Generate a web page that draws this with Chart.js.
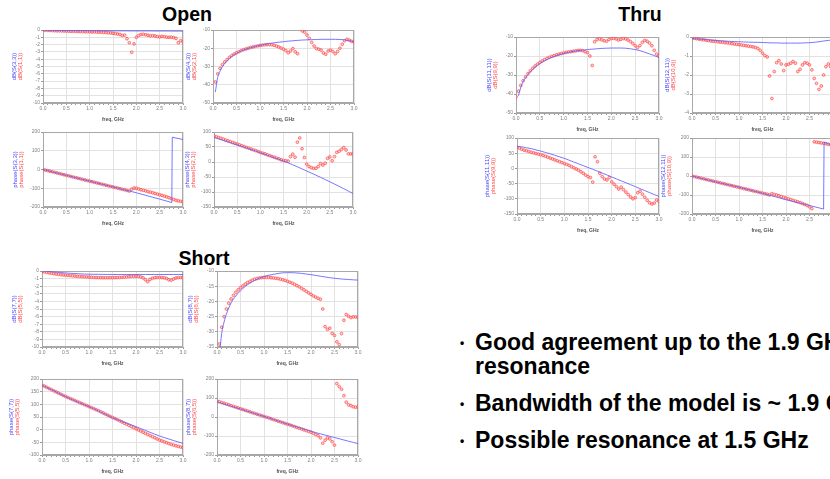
<!DOCTYPE html>
<html><head><meta charset="utf-8">
<script src="https://cdn.jsdelivr.net/npm/chart.js@4.4.0/dist/chart.umd.min.js"></script>
<style>
html,body{margin:0;padding:0;width:830px;height:479px;overflow:hidden;background:#fff;font-family:"Liberation Sans",Arial,sans-serif;}
canvas{position:absolute;}
.ttl{position:absolute;font-weight:bold;font-size:19.5px;line-height:20px;text-align:center;width:100px;color:#000;}
.bul{position:absolute;left:460px;font-weight:bold;font-size:12px;line-height:24px;}
.txt{position:absolute;left:475px;font-weight:bold;font-size:23px;line-height:24px;white-space:nowrap;color:#000;}
</style></head><body>
<div class="ttl" style="left:137px;top:4px">Open</div>
<div class="ttl" style="left:590px;top:4px">Thru</div>
<div class="ttl" style="left:154px;top:248px">Short</div>
<div class="bul" style="top:331px">•</div><div class="txt" style="top:330px">Good agreement up to the 1.9 GHz<br>resonance</div>
<div class="bul" style="top:392px">•</div><div class="txt" style="top:391px">Bandwidth of the model is ~ 1.9 GHz</div>
<div class="bul" style="top:429px">•</div><div class="txt" style="top:428px">Possible resonance at 1.5 GHz</div>
<script>
// ---------- frequency axes ----------
const freqRed = [0,0.05,0.1,0.15,0.2,0.25,0.3,0.35,0.4,0.45,0.5,0.55,0.6,0.65,0.7,0.75,0.8,0.85,0.9,0.95,1.0,1.05,1.1,1.15,1.2,1.25,1.3,1.35,1.4,1.45,1.5,1.55,1.6,1.65,1.7,1.75,1.8,1.85,1.9,1.95,2.0,2.05,2.1,2.15,2.2,2.25,2.3,2.35,2.4,2.45,2.5,2.55,2.6,2.65,2.7,2.75,2.8,2.85,2.9,2.95,3.0];
const freqBlue = [0,0.05,0.1,0.15,0.2,0.3,0.4,0.5,0.6,0.7,0.8,0.9,1.0,1.1,1.2,1.3,1.4,1.5,1.6,1.7,1.8,1.9,2.0,2.1,2.2,2.3,2.4,2.5,2.6,2.7,2.8,2.9,3.0];
const xTicks = [0.0,0.5,1.0,1.5,2.0,2.5,3.0];

// ---------- OPEN ----------
const openS33dB = [0,-0.02,-0.03,-0.04,-0.05,-0.06,-0.07,-0.08,-0.08,-0.09,-0.09,-0.1,-0.1,-0.1,-0.11,-0.11,-0.11,-0.12,-0.12,-0.12,-0.12,-0.13,-0.13,-0.13,-0.13,-0.13,-0.14,-0.14,-0.14,-0.14,-0.15,-0.15,-0.15];
const openS11dB = [0,-0.03,-0.05,-0.07,-0.08,-0.1,-0.11,-0.12,-0.13,-0.14,
 -0.15,-0.16,-0.17,-0.18,-0.19,-0.2,-0.21,-0.22,-0.23,-0.24,
 -0.25,-0.26,-0.27,-0.28,-0.29,-0.31,-0.33,-0.35,-0.38,-0.41,
 -0.45,-0.5,-0.55,-0.62,-0.75,-0.7,-1.2,-1.75,-3.05,-1.9,
 -1.0,-0.75,-0.62,-0.6,-0.65,-0.72,-0.8,-0.78,-0.82,-0.9,
 -0.95,-0.88,-0.92,-0.98,-1.0,-0.98,-1.05,-1.15,-1.75,-1.45,
 -1.6];
const openS43dB = [null,-44,-36,-32.5,-30,-26.8,-24.5,-22.8,-21.5,-20.5,-19.7,-19,-18.4,-17.9,-17.4,-17,-16.7,-16.4,-16.1,-15.9,-15.7,-15.5,-15.4,-15.3,-15.2,-15.1,-15.1,-15.1,-15.1,-15.2,-15.4,-15.8,-16.5];
const openS21dB = [null,-38.5,-34,-31,-29,-27.5,-26.2,-25,-24,-23.2,
 -22.5,-21.9,-21.3,-20.8,-20.4,-20,-19.6,-19.3,-19,-18.7,
 -18.5,-18.3,-18.1,-18,-18,-18.1,-18.4,-18.8,-19.3,-19.9,
 -20.5,-21.3,-22.5,-21.5,-20.2,-22,-23,null,-10.5,-11.2,
 -12.8,-14.6,-16.8,-18.8,-20.2,-20.5,-21,-22.6,-23.3,-21.5,
 -21,-21.8,-23,-21.8,-20,-17.8,-15.9,-15.1,-15.6,-16.2,
 -16.6];
const openS33phFreq = [0,0.5,1.0,1.5,1.85,2.0,2.5,2.76,2.77,3.0];
const openS33ph = [0,-31,-62,-93,-115,-124,-158,-176,172,160];
const openS11ph = [0,-3,-6,-9,-12,-15.5,-18.5,-21.5,-25,-28,
 -31,-34,-37,-40.5,-43.5,-46.5,-49.5,-53,-56,-59,
 -62,-65,-68,-71.5,-74.5,-77.5,-80.5,-84,-87,-90,
 -93,-96,-99,-102.5,-105.5,-108.5,-112,-115,-105,-99,
 -100,-104,-108,-111,-114,-118,-121,-124,-128,-131,
 -135,-138,-142,-146,-150,-155,-160,-164,-167,-170,
 -173];
const openS43ph = [82,79.5,77,74.5,72,67,62,57,52,47,41.5,36.5,31,25.5,20,14.5,9,3,-3,-9.5,-16,-23,-30,-37,-44,-51,-58.5,-66,-73.5,-81,-89,-97,-105];
const openS21ph = [87,84,81.5,79,76,73,70.5,68,65,62.5,
 60,57,54,51.5,48.5,46,43,40.5,38,35,
 32,29.5,27,24,21.5,18.5,16,13,10.5,7.5,
 5,4,3,18,26,16,66,80,44,15,
 -7,-15,-19,-21,-21,-15,-5,-10,-4,12,
 17,4,18,32,36,42,48,40,27,27,
 27];

// ---------- THRU ----------
const thruS1111dB = [null,-41,-36.5,-33.5,-31.5,-28.3,-25.9,-24,-22.5,-21.2,-20.2,-19.4,-18.7,-18.1,-17.6,-17.2,-16.9,-16.6,-16.4,-16.2,-16,-15.9,-15.8,-15.8,-15.8,-15.9,-16.2,-16.6,-17.2,-18,-18.9,-19.8,-20.8];
const thruS99dB = [-41.5,-38.5,-35.5,-33,-31,-29.3,-27.8,-26.5,-25.3,-24.3,
 -23.4,-22.6,-21.9,-21.3,-20.7,-20.2,-19.8,-19.4,-19,-18.7,
 -18.4,-18.1,-17.9,-17.7,-17.5,-17.3,-17.1,-17,-17.2,-17.8,
 -18.2,-20,-25,-12.5,-11.3,-11,-11.5,-12,-12.2,-11.3,
 -10.8,-10.7,-11,-11.6,-11.2,-10.8,-11,-11.6,-12.4,-13.4,
 -14.6,-15.6,-14.5,-12.8,-11.8,-12.2,-13.2,-14.6,-17,-19,
 -20];
const thruS1211dB = [-0.08,-0.09,-0.1,-0.11,-0.12,-0.14,-0.16,-0.18,-0.2,-0.21,-0.23,-0.24,-0.25,-0.26,-0.27,-0.28,-0.28,-0.29,-0.3,-0.31,-0.31,-0.32,-0.32,-0.32,-0.32,-0.32,-0.31,-0.3,-0.28,-0.25,-0.21,-0.18,-0.15];
const thruS109dB = [-0.05,-0.07,-0.09,-0.11,-0.13,-0.15,-0.17,-0.19,-0.21,-0.22,
 -0.23,-0.25,-0.27,-0.28,-0.3,-0.31,-0.33,-0.35,-0.37,-0.39,
 -0.4,-0.42,-0.44,-0.46,-0.48,-0.5,-0.52,-0.55,-0.6,-0.7,
 -0.85,-0.98,-1.05,-2.05,-3.24,-1.82,-1.35,-1.24,-1.42,-1.77,
 -1.47,-1.44,-1.38,-1.29,-1.38,-1.82,-1.7,-1.47,-1.35,-1.38,
 -1.47,-1.73,-2.18,-2.44,-2.76,-2.58,-2.0,-1.56,-1.42,-1.56,
 -1.7];
const thruS1111ph = [72,72,71,69.5,68,65,61,57,52.5,48,43,38,33,27,21,15,9,3,-3,-9,-15.5,-21.5,-28,-34.5,-41,-47,-53.5,-60,-66.5,-73,-79.5,-86,-92];
const thruS99ph = [70,67,63,60,58,55.5,53,51,49,47,
 45,42.5,40,37,34,31,28,25,22,19,
 16,13,10,6,2,-2,-6,-11,-16,-22,
 -27,-30,-45,38,22,-16,-27,-35,-38,-30,
 -44,-52,-60,-68,-62,-70,-78,-86,-94,-100,
 -96,-80,-75,-85,-95,-105,-113,-117,-114,-104,
 -108];
const thruS1211phFreq = [0,0.5,1.0,1.5,2.0,2.5,2.8,2.81,3.0];
const thruS1211ph = [0,-31,-59,-91,-125,-155,-174,178,160];
const thruS109ph = [0,-3,-6,-9,-12,-15,-18,-21,-24,-27,
 -30,-33,-36,-39,-42,-45,-48,-51,-54,-57,
 -60,-63,-66,-69,-72,-75,-78,-81,-84,-87,
 -90,-93,-96,-100,-93,-97,-100,-104,-108,-112,
 -116,-120,-124,-128,-132,-136,-140,-145,-150,-155,
 -162,-172,180,178,176,174,172,170,167,164,
 161];

// ---------- SHORT ----------
const shortS77dB = [0,-0.02,-0.04,-0.07,-0.1,-0.15,-0.2,-0.25,-0.3,-0.34,-0.37,-0.4,-0.42,-0.43,-0.44,-0.45,-0.45,-0.46,-0.46,-0.46,-0.46,-0.46,-0.46,-0.46,-0.46,-0.46,-0.46,-0.46,-0.46,-0.46,-0.46,-0.46,-0.46];
const shortS55dB = [-0.05,-0.12,-0.18,-0.24,-0.3,-0.35,-0.4,-0.44,-0.48,-0.52,
 -0.55,-0.58,-0.61,-0.64,-0.67,-0.7,-0.72,-0.74,-0.76,-0.78,
 -0.8,-0.82,-0.84,-0.86,-0.87,-0.88,-0.88,-0.89,-0.89,-0.88,
 -0.88,-0.87,-0.86,-0.85,-0.83,-0.8,-0.77,-0.74,-0.72,-0.7,
 -0.7,-0.72,-0.78,-0.9,-1.15,-1.4,-1.1,-0.95,-0.88,-0.85,
 -0.85,-0.87,-0.9,-0.98,-1.15,-1.2,-1.05,-0.92,-0.86,-0.85,
 -0.88];
const shortS87dB = [null,-38,-30.5,-26.8,-24.2,-20.5,-18.2,-16.5,-15.1,-14,-13.1,-12.4,-11.8,-11.4,-11.1,-10.8,-10.6,-10.55,-10.55,-10.65,-10.8,-11,-11.2,-11.45,-11.7,-11.95,-12.2,-12.4,-12.55,-12.7,-12.8,-12.9,-13];
const shortS65dB = [null,-34,-28.5,-25,-22.5,-20.6,-19.2,-18,-17,-16.2,
 -15.5,-14.9,-14.3,-13.8,-13.4,-13,-12.7,-12.5,-12.3,-12.2,
 -12.1,-12.1,-12.1,-12.2,-12.3,-12.4,-12.5,-12.7,-12.9,-13.1,
 -13.4,-13.7,-14,-14.4,-14.8,-15.2,-15.7,-16.2,-16.7,-17.2,
 -17.7,-18.2,-18.6,-19,-19.3,-22.5,-28.3,-29.2,-28.8,-30.5,
 -31.2,-33.3,-34.2,-30.6,-26.2,-24.3,-24.9,-25.3,-25.1,-25.1,
 -25.3];
const shortS77ph = [176,171,167,162,158,149,139.5,130.5,122,114,106,98.5,91,82.5,74,65,56,47,40,33,26,19,12,4.5,-3,-10.5,-18,-25,-31,-37,-43,-48.5,-54];
const shortS55ph = [176,172,167,162.5,158,153.5,149,144.5,140,135.5,
 131,127,123,119,115,111,107,103,99,95,
 91,87,83,79,75,70.5,66,61.5,57,52.5,
 48,44,39.5,35,30.5,26,21.5,17,12.5,8,
 3.5,-1,-5.5,-10,-14.5,-19,-23.5,-28,-32,-36.5,
 -41,-44.5,-48,-51.5,-55,-58,-61,-63.5,-66,-68.5,
 -71];
const shortS87ph = [80,76,72,68.5,65,57,49.5,42,34,26,18.5,10.5,3,-5,-13,-21,-29,-37,-45,-52.5,-60,-67.5,-75,-82,-88.5,-95,-101.5,-108,-114.5,-121,-127.5,-134,-140];
const shortS65ph = [84,80,76,72,68,64,60,55.5,51.5,47.5,
 43.5,39.5,35.5,31.5,27,23,19,15,11,7,
 3,-1,-5,-9,-13.5,-17.5,-21.5,-26,-30,-34,
 -38,-42,-46.5,-50.5,-55,-59,-63,-67.5,-71.5,-76,
 -80,-86,-92,-98,-110,-138,-122,-110,-115,-130,
 -148,176,160,146,112,78,64,60,54,51,
 54];

// ---------- layout of the 12 panels ----------
const panels = [
 {r:[43,30,183,103],  y:[-10,0,1],     bx:freqBlue, by:openS33dB,  ry:openS11dB,  bl:'dB(S(3,3))',  rl:'dB(S(1,1))',  dx:29},
 {r:[213,30,354,103], y:[-50,-10,10],  bx:freqBlue, by:openS43dB,  ry:openS21dB,  bl:'dB(S(4,3))',  rl:'dB(S(2,1))',  dx:25},
 {r:[43,132,183,207], y:[-200,200,100],bx:openS33phFreq, by:openS33ph, ry:openS11ph, bl:'phase(S(3,3))', rl:'phase(S(1,1))', dx:28, wrap:true},
 {r:[214,132,353,207],y:[-150,100,50], bx:freqBlue, by:openS43ph,  ry:openS21ph,  bl:'phase(S(4,3))', rl:'phase(S(2,1))', dx:27},
 {r:[516,37,659,113], y:[-50,-10,10],  bx:freqBlue, by:thruS1111dB,ry:thruS99dB,  bl:'dB(S(11,11))',rl:'dB(S(9,9))',  dx:27},
 {r:[692,37,833,113], y:[-4,0,1],      bx:freqBlue, by:thruS1211dB,ry:thruS109dB, bl:'dB(S(12,11))',rl:'dB(S(10,9))', dx:25},
 {r:[517,138,659,214],y:[-150,100,50], bx:freqBlue, by:thruS1111ph,ry:thruS99ph,  bl:'phase(S(11,11))', rl:'phase(S(9,9))', dx:30},
 {r:[692,138,833,214],y:[-200,200,100],bx:thruS1211phFreq, by:thruS1211ph, ry:thruS109ph, bl:'phase(S(12,11))', rl:'phase(S(10,9))', dx:29, wrap:true},
 {r:[42,271,183,347], y:[-10,0,1],     bx:freqBlue, by:shortS77dB, ry:shortS55dB, bl:'dB(S(7,7))',  rl:'dB(S(5,5))',  dx:28},
 {r:[217,271,358,347],y:[-35,-10,5],   bx:freqBlue, by:shortS87dB, ry:shortS65dB, bl:'dB(S(8,7))',  rl:'dB(S(6,5))',  dx:27},
 {r:[42,379,183,455], y:[-100,200,50], bx:freqBlue, by:shortS77ph, ry:shortS55ph, bl:'phase(S(7,7))', rl:'phase(S(5,5))', dx:31},
 {r:[217,379,358,455],y:[-200,200,100],bx:freqBlue, by:shortS87ph, ry:shortS65ph, bl:'phase(S(8,7))', rl:'phase(S(6,5))', dx:29}
];

Chart.defaults.font.family = '"Liberation Sans", Arial, sans-serif';
const YW = 36, PT = 5, PR = 6, XH = 24;
const isHalf = v => xTicks.some(t => Math.abs(t - v) < 1e-6);

const decor = {
  id: 'decor',
  beforeDatasetsDraw(chart, args, o) {
    const {ctx, chartArea: a} = chart;
    ctx.save();
    ctx.strokeStyle = '#a8a8a8'; ctx.lineWidth = 1;
    ctx.strokeRect(a.left + 0.5, a.top + 0.5, a.right - a.left - 1, a.bottom - a.top - 1);
    ctx.restore();
  },
  afterDraw(chart, args, o) {
    const {ctx, chartArea: a} = chart;
    ctx.save();
    ctx.textAlign = 'center'; ctx.textBaseline = 'middle';
    ctx.font = 'bold 5px "Liberation Sans", Arial';
    ctx.fillStyle = '#555';
    ctx.fillText('freq, GHz', (a.left + a.right) / 2, a.bottom + 16.5);
    ctx.font = '6px "Liberation Sans", Arial';
    ctx.translate(a.left - o.dx, (a.top + a.bottom) / 2);
    ctx.rotate(-Math.PI / 2);
    ctx.fillStyle = '#4646ff'; ctx.fillText(o.bl, 0, 0);
    ctx.fillStyle = '#ff4646'; ctx.fillText(o.rl, 0, 6.5);
    ctx.restore();
  }
};

panels.forEach((p, i) => {
  const [l, t, r, b] = p.r;
  const cv = document.createElement('canvas');
  const w = (r - l) + YW + PR, h = (b - t) + PT + XH;
  cv.width = w; cv.height = h;
  cv.style.left = (l - YW) + 'px'; cv.style.top = (t - PT) + 'px';
  cv.style.width = w + 'px'; cv.style.height = h + 'px';
  document.body.appendChild(cv);
  const blue = p.bx.map((x, k) => ({x: x, y: p.by[k]}));
  const red = freqRed.map((x, k) => ({x: x, y: p.ry[k]}));
  new Chart(cv, {
    type: 'line',
    data: {datasets: [
      {data: blue, borderColor: 'rgba(95,95,255,0.85)', borderWidth: 1, pointRadius: 0,
       tension: p.wrap ? 0 : 0.3, cubicInterpolationMode: p.wrap ? 'default' : 'monotone', fill: false},
      {data: red, showLine: false, pointRadius: 1.4, pointBorderWidth: 0.8,
       pointBorderColor: 'rgba(255,70,70,0.85)', pointBackgroundColor: 'rgba(255,150,150,0.45)'}
    ]},
    options: {
      responsive: false, animation: false, devicePixelRatio: 1,
      layout: {padding: {left: 0, right: PR, top: PT, bottom: 0}},
      plugins: {legend: {display: false}, tooltip: {enabled: false},
        decor: {bl: p.bl, rl: p.rl, dx: p.dx}},
      scales: {
        x: {type: 'linear', min: 0, max: 3,
          afterFit(s) { s.height = XH; s.paddingLeft = 0; s.paddingRight = 0; },
          ticks: {stepSize: 0.1, autoSkip: false, maxRotation: 0, padding: 1, color: '#808080',
            font: {size: 5}, callback: v => isHalf(v) ? Number(v).toFixed(1) : ''},
          grid: {color: c => (c.tick && isHalf(c.tick.value)) ? '#e2e2e2' : 'rgba(0,0,0,0)',
            tickColor: '#9a9a9a', tickLength: 2},
          border: {color: '#a8a8a8'}},
        y: {type: 'linear', min: p.y[0], max: p.y[1],
          afterFit(s) { s.width = YW; s.paddingTop = 0; s.paddingBottom = 0; },
          ticks: {stepSize: p.y[2], autoSkip: false, padding: 1, color: '#808080', font: {size: 5}},
          grid: {color: '#e2e2e2', tickColor: '#9a9a9a', tickLength: 2},
          border: {color: '#a8a8a8'}}
      }
    },
    plugins: [decor]
  });
});
</script>
</body></html>
